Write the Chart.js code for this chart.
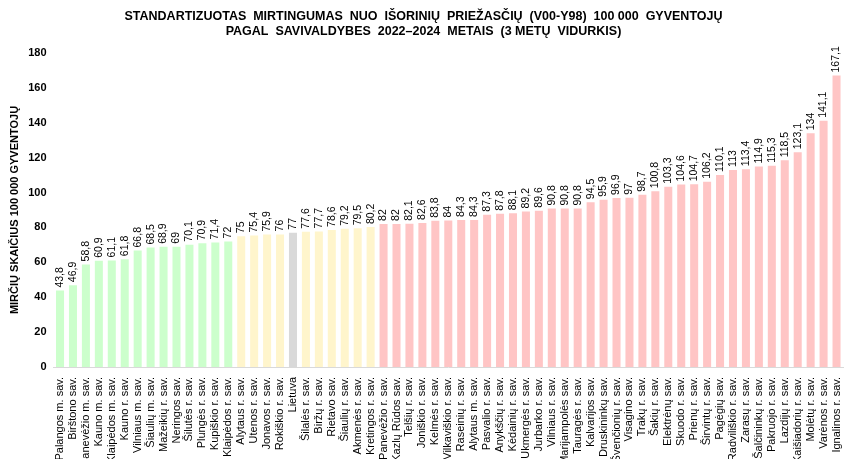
<!DOCTYPE html>
<html>
<head>
<meta charset='utf-8'>
<title>Mirtingumas nuo išorinių priežasčių</title>
<script src="https://cdn.jsdelivr.net/npm/chart.js@4.4.1/dist/chart.umd.min.js"></script>
<style>
  html, body { margin: 0; padding: 0; background: #fff; }
  #wrap { width: 847px; height: 459px; }
</style>
</head>
<body>
<div id="wrap"><canvas id="grafikas"></canvas></div>
<script>
// savivaldybės
var savivaldybes = [
  'Palangos m. sav.', 'Birštono sav.', 'Panevėžio m. sav.', 'Kauno m. sav.', 'Klaipėdos m. sav.',
  'Kauno r. sav.', 'Vilniaus m. sav.', 'Šiaulių m. sav.', 'Mažeikių r. sav.', 'Neringos sav.',
  'Šilutės r. sav.', 'Plungės r. sav.', 'Kupiškio r. sav.', 'Klaipėdos r. sav.', 'Alytaus r. sav.',
  'Utenos r. sav.', 'Jonavos r. sav.', 'Rokiškio r. sav.', 'Lietuva', 'Šilalės r. sav.',
  'Biržų r. sav.', 'Rietavo sav.', 'Šiaulių r. sav.', 'Akmenės r. sav.', 'Kretingos r. sav.',
  'Panevėžio r. sav.', 'Kazlų Rūdos sav.', 'Telšių r. sav.', 'Joniškio r. sav.', 'Kelmės r. sav.',
  'Vilkaviškio r. sav.', 'Raseinių r. sav.', 'Alytaus m. sav.', 'Pasvalio r. sav.', 'Anykščių r. sav.',
  'Kėdainių r. sav.', 'Ukmergės r. sav.', 'Jurbarko r. sav.', 'Vilniaus r. sav.', 'Marijampolės sav.',
  'Tauragės r. sav.', 'Kalvarijos sav.', 'Druskininkų sav.', 'Švenčionių r. sav.', 'Visagino sav.',
  'Trakų r. sav.', 'Šakių r. sav.', 'Elektrėnų sav.', 'Skuodo r. sav.', 'Prienų r. sav.',
  'Širvintų r. sav.', 'Pagėgių sav.', 'Radviliškio r. sav.', 'Zarasų r. sav.', 'Šalčininkų r. sav.',
  'Pakruojo r. sav.', 'Lazdijų r. sav.', 'Kaišiadorių r. sav.', 'Molėtų r. sav.', 'Varėnos r. sav.',
  'Ignalinos r. sav.'
];

// mirčių skaičius 100 000 gyventojų
var reiksmes = [
  43.8, 46.9, 58.8, 60.9, 61.1, 61.8, 66.8, 68.5, 68.9, 69,
  70.1, 70.9, 71.4, 72, 75, 75.4, 75.9, 76, 77, 77.6,
  77.7, 78.6, 79.2, 79.5, 80.2, 82, 82, 82.1, 82.6, 83.8,
  84, 84.3, 84.3, 87.3, 87.8, 88.1, 89.2, 89.6, 90.8, 90.8,
  90.8, 94.5, 95.9, 96.9, 97, 98.7, 100.8, 103.3, 104.6, 104.7,
  106.2, 110.1, 113, 113.4, 114.9, 115.3, 118.5, 123.1, 134, 141.1,
  167.1
];

var yTicks = [0, 20, 40, 60, 80, 100, 120, 140, 160, 180];

var pavadinimas = [
  'STANDARTIZUOTAS  MIRTINGUMAS  NUO  IŠORINIŲ  PRIEŽASČIŲ  (V00-Y98)  100 000  GYVENTOJŲ',
  'PAGAL  SAVIVALDYBES  2022–2024  METAIS  (3 METŲ  VIDURKIS)'
];
var yPavadinimas = 'MIRČIŲ SKAIČIUS 100 000 GYVENTOJŲ';

// spalvos pagal santykį su Lietuvos vidurkiu (±5 %)
var lt = reiksmes[savivaldybes.indexOf('Lietuva')];
var spalvos = reiksmes.map(function (v, i) {
  if (savivaldybes[i] === 'Lietuva') return '#d9d9d9';
  if (v < lt * 0.95) return '#ccffcc';
  if (v <= lt * 1.05) return '#fff5cc';
  return '#ffc5c5';
});

// reikšmės virš stulpelių
var etiketes = {
  id: 'etiketes',
  afterDatasetsDraw: function (chart) {
    var ctx = chart.ctx;
    var meta = chart.getDatasetMeta(0);
    ctx.save();
    ctx.font = '10.5px "Liberation Sans", Arial, sans-serif';
    ctx.fillStyle = '#000';
    ctx.textAlign = 'left';
    ctx.textBaseline = 'middle';
    meta.data.forEach(function (bar, i) {
      ctx.save();
      ctx.translate(bar.x, bar.y - 3);
      ctx.rotate(-Math.PI / 2);
      ctx.fillText(String(reiksmes[i]).replace('.', ','), 0, 0);
      ctx.restore();
    });
    ctx.restore();
  }
};

var ctx = document.getElementById('grafikas').getContext('2d');
var grafikas = new Chart(ctx, {
  type: 'bar',
  data: {
    labels: savivaldybes,
    datasets: [{
      data: reiksmes,
      backgroundColor: spalvos,
      borderWidth: 0,
      barPercentage: 0.62,
      categoryPercentage: 1
    }]
  },
  options: {
    responsive: true,
    maintainAspectRatio: false,
    animation: false,
    layout: { padding: { left: 4, right: 4, top: 0, bottom: 0 } },
    plugins: {
      legend: { display: false },
      tooltip: { enabled: false },
      title: {
        display: true,
        text: pavadinimas,
        color: '#000',
        font: { family: '"Liberation Sans Narrow", "Liberation Sans", Arial', weight: 'bold', size: 12.5 },
        lineHeight: 1.25,
        padding: { top: 9, bottom: 14 }
      }
    },
    scales: {
      x: {
        grid: { display: false },
        border: { display: true, color: '#d9d9d9', width: 1 },
        ticks: {
          autoSkip: false,
          maxRotation: 90,
          minRotation: 90,
          padding: 2,
          color: '#000',
          font: { family: '"Liberation Sans", Arial', size: 11 }
        },
        afterFit: function (scale) {
          scale.height = 92;
          scale.paddingLeft = 0;
          scale.paddingRight = 0;
        }
      },
      y: {
        min: 0,
        max: 180,
        afterBuildTicks: function (scale) {
          scale.ticks = yTicks.map(function (v) { return { value: v }; });
        },
        grid: { display: false, drawTicks: false },
        border: { display: false },
        ticks: {
          padding: 7,
          color: '#000',
          font: { family: '"Liberation Sans", Arial', weight: 'bold', size: 11 }
        },
        title: {
          display: true,
          text: yPavadinimas,
          color: '#000',
          padding: { top: 4, bottom: 0 },
          font: { family: '"Liberation Sans", Arial', weight: 'bold', size: 11 }
        }
      }
    }
  },
  plugins: [etiketes]
});
</script>
</body>
</html>
